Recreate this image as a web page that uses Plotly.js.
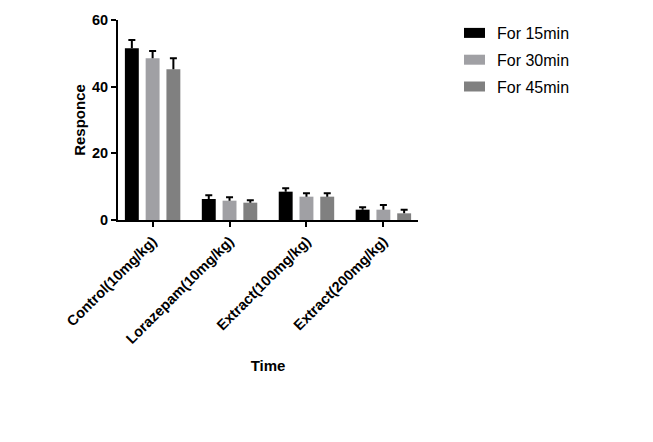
<!DOCTYPE html>
<html>
<head>
<meta charset="utf-8">
<script src="https://cdn.plot.ly/plotly-3.0.1.min.js"></script>
<style>html,body{margin:0;padding:0;background:#fff;}#chart{width:653px;height:442px;}</style>
</head>
<body>
<div id="chart"></div>
<script>
const categories = ["Control(10mg/kg)", "Lorazepam(10mg/kg)", "Extract(100mg/kg)", "Extract(200mg/kg)"];
const seriesNames = ["For 15min", "For 30min", "For 45min"];
const values15 = [51.5, 6.3, 8.5, 3.1];
const values30 = [48.5, 5.8, 7.0, 3.1];
const values45 = [45.2, 5.2, 7.0, 2.0];
const err15 = [2.5, 1.1, 1.0, 0.7];
const err30 = [2.2, 1.0, 1.0, 1.4];
const err45 = [3.3, 0.7, 1.0, 1.1];
const colors = ["#000000", "#a0a0a4", "#808080"];

const allValues = [values15, values30, values45];
const allErr = [err15, err30, err45];

const traces = allValues.map((v, i) => ({
  type: "bar",
  name: seriesNames[i],
  legendgroup: "g" + i,
  x: categories,
  y: v,
  marker: {color: colors[i], line: {width: 0}},
  error_y: {
    type: "data",
    symmetric: false,
    array: allErr[i],
    arrayminus: v.map(() => 0),
    color: "#000000",
    thickness: 2,
    width: 3.5
  }
}));

const fam = "Liberation Sans, Arial, sans-serif";

const layout = {
  width: 653,
  height: 442,
  margin: {l: 118, r: 235, t: 20, b: 222},
  paper_bgcolor: "#fff",
  plot_bgcolor: "#fff",
  barmode: "group",
  bargap: 0.19,
  bargroupgap: 0.33,
  font: {family: fam, color: "#000"},
  showlegend: true,
  legend: {
    x: 1.13, y: 1.02, xanchor: "left", yanchor: "top",
    font: {family: fam, size: 16, color: "#000"},
    traceorder: "grouped",
    tracegroupgap: 3
  },
  xaxis: {
    type: "category",
    range: [-0.45, 3.45],
    showline: true, linecolor: "#000", linewidth: 2,
    ticks: "outside", ticklen: 5, tickwidth: 2, tickcolor: "#000",
    tickangle: -45,
    tickfont: {family: fam, size: 14.5, color: "#000", weight: "bold"},
    showgrid: false, zeroline: false,
    title: {text: "<b>Time</b>", font: {family: fam, size: 15, color: "#000"}, standoff: 15}
  },
  yaxis: {
    range: [0, 60],
    tickvals: [0, 20, 40, 60],
    showline: true, linecolor: "#000", linewidth: 2,
    ticks: "outside", ticklen: 5, tickwidth: 2, tickcolor: "#000",
    tickfont: {family: fam, size: 14.5, color: "#000", weight: "bold"},
    showgrid: false, zeroline: false,
    title: {text: "<b>Responce</b>", font: {family: fam, size: 15, color: "#000"}, standoff: 3}
  }
};

Plotly.newPlot("chart", traces, layout, {displayModeBar: false, staticPlot: true}).then(() => {
  document.querySelectorAll(".errorbar path.yerror").forEach(p => {
    const d = p.getAttribute("d") || "";
    p.setAttribute("d", d.replace(/m-[\d.]+,0h[\d.]+$/, ""));
  });
  document.querySelectorAll(".legend .legendpoints path").forEach(p => {
    p.setAttribute("d", "M-13,5H8V-5H-13Z");
  });
});
</script>
</body>
</html>
